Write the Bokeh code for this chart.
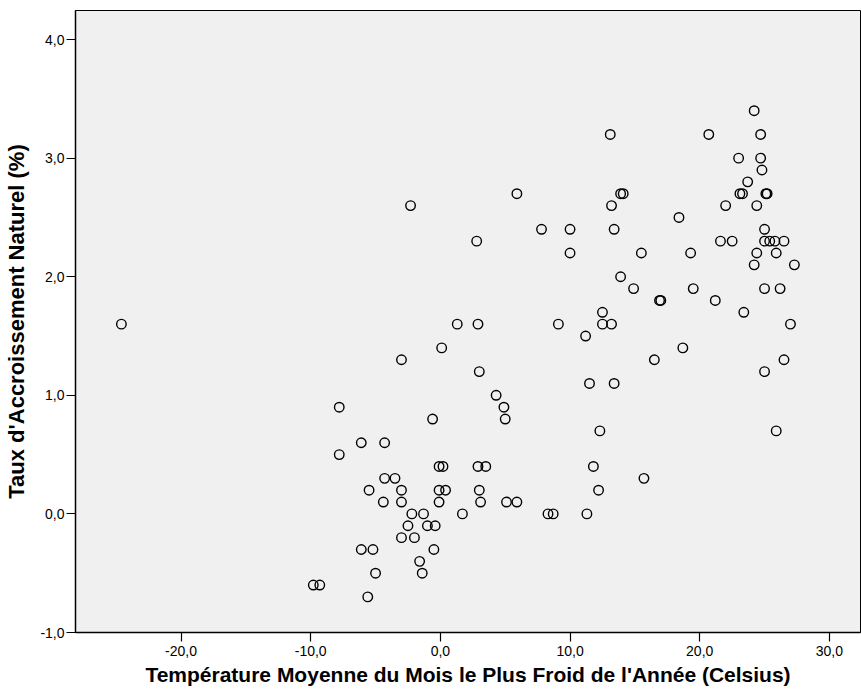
from bokeh.plotting import figure
from bokeh.models import Range1d, SingleIntervalTicker, CustomJSTickFormatter, ColumnDataSource
from bokeh.embed import file_html
from bokeh.resources import INLINE

# Data (temperature in Celsius, growth rate in %)
rows = {
    3.4: [24.2],
    3.2: [13.1, 20.7, 24.7],
    3.0: [23.0, 24.7],
    2.9: [24.8],
    2.8: [23.7],
    2.7: [5.9, 13.9, 14.1, 23.1, 23.3, 25.1, 25.2],
    2.6: [-2.3, 13.2, 22.0, 24.4],
    2.5: [18.4],
    2.4: [7.8, 10.0, 13.4, 25.0],
    2.3: [2.8, 21.6, 22.5, 25.0, 25.4, 25.8, 26.5],
    2.2: [10.0, 15.5, 19.3, 24.4, 25.9],
    2.1: [24.2, 27.3],
    2.0: [13.9],
    1.9: [14.9, 19.5, 25.0, 26.2],
    1.8: [16.9, 17.0, 21.2],
    1.7: [12.5, 23.4],
    1.6: [-24.6, 1.3, 2.9, 9.1, 12.5, 13.2, 27.0],
    1.5: [11.2],
    1.4: [0.1, 18.7],
    1.3: [-3.0, 16.5, 26.5],
    1.2: [3.0, 25.0],
    1.1: [11.5, 13.4],
    1.0: [4.3],
    0.9: [-7.8, 4.9],
    0.8: [-0.6, 5.0],
    0.7: [12.3, 25.9],
    0.6: [-6.1, -4.3],
    0.5: [-7.8],
    0.4: [-0.1, 0.2, 2.9, 3.5, 11.8],
    0.3: [-4.3, -3.5, 15.7],
    0.2: [-5.5, -3.0, -0.1, 0.4, 3.0, 12.2],
    0.1: [-4.4, -3.0, -0.1, 3.1, 5.1, 5.9],
    0.0: [-2.2, -1.3, 1.7, 8.3, 8.7, 11.3],
    -0.1: [-2.5, -1.0, -0.4],
    -0.2: [-3.0, -2.0],
    -0.3: [-6.1, -5.2, -0.5],
    -0.4: [-1.6],
    -0.5: [-5.0, -1.4],
    -0.6: [-9.8, -9.3],
    -0.7: [-5.6],
}

temperature = []
growth = []
for g, temps in rows.items():
    for t in temps:
        temperature.append(t)
        growth.append(g)

x_label = "Température Moyenne du Mois le Plus Froid de l'Année (Celsius)"
y_label = "Taux d'Accroissement Naturel (%)"

src = ColumnDataSource(data=dict(x=temperature, y=growth))

p = figure(width=861, height=691, output_backend="svg", toolbar_location=None,
           x_range=Range1d(-28.14, 32.4), y_range=Range1d(-1.0, 4.245),
           min_border_left=75, min_border_right=1, min_border_top=10, min_border_bottom=59)
p.background_fill_color = "#F0F0F0"
p.border_fill_color = "white"
p.outline_line_color = "black"
p.outline_line_width = 1
p.xgrid.visible = False
p.ygrid.visible = False

p.scatter("x", "y", source=src, marker="circle", size=9.5, fill_color=None,
          line_color="black", line_width=1.4)

fmt = CustomJSTickFormatter(code="return tick.toFixed(1).replace('.', ',');")
for ax, interval in ((p.xaxis[0], 10), (p.yaxis[0], 1)):
    ax.ticker = SingleIntervalTicker(interval=interval, num_minor_ticks=0)
    ax.formatter = fmt
    ax.minor_tick_line_color = None
    ax.major_tick_in = 0
    ax.major_tick_out = 9
    ax.axis_line_width = 1.5
    ax.major_tick_line_width = 1.2
    ax.major_label_text_font = "Liberation Sans"
    ax.major_label_text_font_size = "14px"
    ax.major_label_text_color = "black"
    ax.axis_label_text_font = "Liberation Sans"
    ax.axis_label_text_font_style = "bold"
    ax.axis_label_text_color = "black"

p.xaxis.axis_label = x_label
p.yaxis.axis_label = y_label
p.xaxis.axis_label_text_font_size = "21px"
p.yaxis.axis_label_text_font_size = "22px"
p.xaxis.major_label_standoff = 4
p.xaxis.axis_label_standoff = 4
p.yaxis.major_label_standoff = 2
p.yaxis.axis_label_standoff = 8

open("out.html", "w").write(file_html(p, INLINE))
